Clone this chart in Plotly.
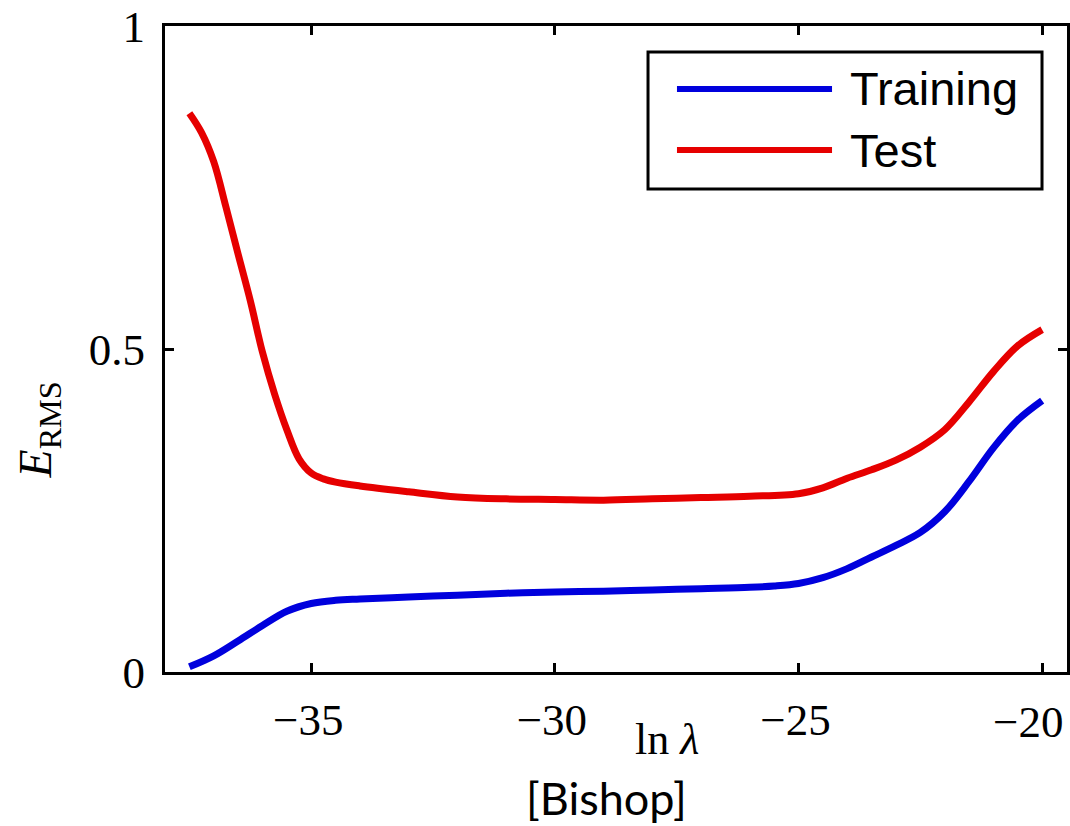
import plotly.graph_objects as go

# ---- data ----
x_train = [-37.5, -37.0, -36.5, -36.0, -35.5, -35.0, -34.5, -34.0, -33.0, -32.0, -31.0,
           -30.0, -29.0, -28.0, -27.0, -26.0, -25.5, -25.0, -24.5, -24.0, -23.5, -23.0,
           -22.5, -22.0, -21.5, -21.0, -20.5, -20.0]
train = [0.008, 0.025, 0.048, 0.072, 0.094, 0.106, 0.111, 0.113, 0.116, 0.119, 0.122,
         0.124, 0.125, 0.127, 0.129, 0.131, 0.133, 0.137, 0.146, 0.160, 0.178, 0.196,
         0.216, 0.248, 0.295, 0.347, 0.390, 0.420]

x_test = [-37.5, -37.25, -37.0, -36.75, -36.5, -36.25, -36.0, -35.75, -35.5, -35.25,
          -35.0, -34.75, -34.5, -34.0, -33.0, -32.0, -31.0, -30.0, -29.0, -28.0, -27.0,
          -26.0, -25.0, -24.5, -24.0, -23.5, -23.0, -22.5, -22.0, -21.5, -21.0, -20.5, -20.0]
test = [0.865, 0.835, 0.790, 0.720, 0.647, 0.575, 0.495, 0.430, 0.375, 0.330,
        0.308, 0.299, 0.294, 0.288, 0.279, 0.271, 0.268, 0.267, 0.266, 0.268, 0.270,
        0.272, 0.276, 0.285, 0.300, 0.313, 0.328, 0.348, 0.375, 0.418, 0.465, 0.505, 0.530]

x_ticks = [-35, -30, -25, -20]
x_ticklabels = ["\u221235", "\u221230", "\u221225", "\u221220"]
y_ticks = [0, 0.5, 1]
y_ticklabels = ["0", "0.5", "1"]
series_names = ["Training", "Test"]

BLUE = "#0000DD"
RED = "#E60000"
SERIF = "Liberation Serif, Times New Roman, serif"
SANS = "Liberation Sans, Arial, sans-serif"

fig = go.Figure()
fig.add_trace(go.Scatter(x=x_train, y=train, mode="lines", name=series_names[0],
                         line=dict(color=BLUE, width=7, shape="spline", smoothing=1.0),
                         showlegend=False))
fig.add_trace(go.Scatter(x=x_test, y=test, mode="lines", name=series_names[1],
                         line=dict(color=RED, width=7, shape="spline", smoothing=1.0),
                         showlegend=False))

axis_common = dict(showline=True, linecolor="black", linewidth=3, mirror="ticks",
                   ticks="inside", ticklen=9, tickwidth=3, tickcolor="black",
                   showgrid=False, zeroline=False, automargin=False,
                   tickfont=dict(family=SERIF, size=45, color="black"))

# the last tick label sits against the right edge, so (as in the reference) it is
# drawn shifted left of its tick as an annotation
fig.update_xaxes(range=[-38.0, -19.49], tickvals=x_ticks,
                 ticktext=x_ticklabels[:-1] + [""],
                 ticklabelstandoff=6, ticklabelshift=-3, **axis_common)
fig.update_yaxes(range=[0, 1], tickvals=y_ticks, ticktext=y_ticklabels,
                 ticklabelstandoff=8, **axis_common)
fig.add_annotation(xref="x", yref="paper", x=x_ticks[-1], y=-0.077,
                   text=x_ticklabels[-1], showarrow=False, xanchor="center",
                   yanchor="middle", xshift=-14,
                   font=dict(family=SERIF, size=45, color="black"))

# ---- custom legend (MATLAB-style box) ----
lx0, lx1, ly0, ly1 = 0.5355, 0.9723, 0.7477, 0.9598
fig.add_shape(type="rect", xref="paper", yref="paper", x0=lx0, x1=lx1, y0=ly0, y1=ly1,
              line=dict(color="black", width=3), fillcolor="white", layer="above")
rows = [(0.9025, BLUE, series_names[0]), (0.808, RED, series_names[1])]
for yy, col, name in rows:
    fig.add_shape(type="line", xref="paper", yref="paper", x0=0.5676, x1=0.7395,
                  y0=yy, y1=yy, line=dict(color=col, width=6), layer="above")
    fig.add_annotation(xref="paper", yref="paper", x=0.7572, y=yy, text=name,
                       showarrow=False, xanchor="left", yanchor="middle",
                       font=dict(family=SANS, size=47, color="black"))

# ---- axis titles ----
fig.add_annotation(xref="paper", yref="paper", x=0.5565, y=-0.105,
                   text="ln <i>λ</i>", showarrow=False, xanchor="center", yanchor="middle",
                   font=dict(family=SERIF, size=44, color="black"))
fig.add_annotation(xref="paper", yref="paper", x=-0.14, y=0.375,
                   text="<i>E</i><sub>RMS</sub>", showarrow=False, textangle=-90,
                   xanchor="center", yanchor="middle",
                   font=dict(family=SERIF, size=46, color="black"))
fig.add_annotation(xref="paper", yref="paper", x=0.49, y=-0.195,
                   text="[Bishop]", showarrow=False, xanchor="center", yanchor="middle",
                   font=dict(family="Lato, Open Sans, sans-serif", size=45, color="black"))

fig.update_layout(width=1070, height=826, margin=dict(l=165, r=3, t=26, b=154),
                  paper_bgcolor="white", plot_bgcolor="white", showlegend=False)

fig.write_html("out.html")
